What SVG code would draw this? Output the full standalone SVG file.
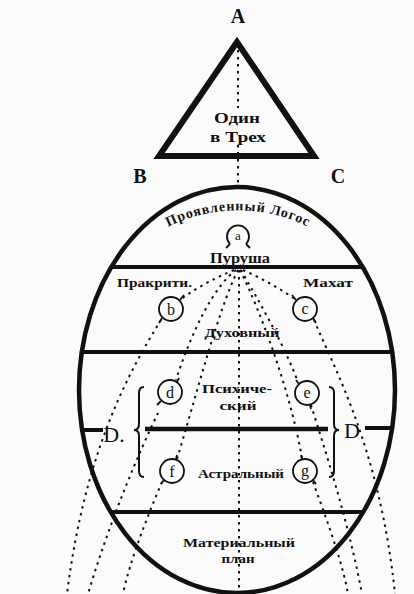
<svg xmlns="http://www.w3.org/2000/svg" width="414" height="594" viewBox="0 0 414 594">
<defs>
<style>
.solid{fill:none;stroke:#111;stroke-linecap:butt}
.dot{fill:none;stroke:#111;stroke-width:2;stroke-dasharray:2.5 4.5}
.lbl{font-family:"Liberation Serif","DejaVu Serif",serif;font-weight:bold;fill:#111}
.big{font-family:"Liberation Serif","DejaVu Serif",serif;fill:#111}
.circ{fill:none;stroke:#111;stroke-width:1.8}
</style>
<path id="arcTop" d="M160,231 A158,158 0 0 1 316,231"/>
</defs>
<rect width="414" height="594" fill="#fbfbfb"/>

<g id="connectors">
<path class="dot" d="M238,50 V108"/>
<path class="dot" d="M238,145 V186"/>
<path class="dot" d="M239,270 V594"/>
<path class="dot" d="M234,270 Q205,282 181,299"/>
<path class="dot" d="M161,320 C130,370 85,450 67,594"/>
<path class="dot" d="M236,270 C215,285 192,330 176,380"/>
<path class="dot" d="M158,413 C140,450 110,520 88,594"/>
<path class="dot" d="M238,270 C218,310 195,400 177,459"/>
<path class="dot" d="M162,482 C148,515 130,560 123,594"/>
<path class="dot" d="M243,270 Q270,282 295,299"/>
<path class="dot" d="M314,320 C335,370 380,450 395,594"/>
<path class="dot" d="M241,270 C258,300 282,340 298,382"/>
<path class="dot" d="M311,405 C325,450 348,520 362,594"/>
<path class="dot" d="M240,270 C260,310 290,390 302,458"/>
<path class="dot" d="M313,482 C325,515 342,560 348,594"/>
</g>

<g id="trinity">
<path class="solid" d="M237,42 L159,156 L314,156 Z" stroke-width="6" stroke-linejoin="miter"/>
<text class="lbl" x="237" y="123" font-size="15" text-anchor="middle" textLength="46" lengthAdjust="spacingAndGlyphs">Один</text>
<text class="lbl" x="238" y="142" font-size="14" text-anchor="middle" textLength="56" lengthAdjust="spacingAndGlyphs">в Трех</text>
</g>
<g id="label-A"><text class="lbl" x="238" y="23" font-size="20" text-anchor="middle">A</text></g>
<g id="label-B"><text class="lbl" x="140" y="183" font-size="20" text-anchor="middle">B</text></g>
<g id="label-C"><text class="lbl" x="338" y="183" font-size="20" text-anchor="middle">C</text></g>

<g id="egg">
<ellipse cx="237" cy="390" rx="158" ry="203" fill="none" stroke="#111" stroke-width="4.5"/>
<line class="solid" x1="111" y1="267" x2="363" y2="267" stroke-width="4"/>
<line class="solid" x1="82" y1="352" x2="392" y2="352" stroke-width="4"/>
<line class="solid" x1="80" y1="430" x2="103" y2="430" stroke-width="4"/>
<line class="solid" x1="145" y1="429" x2="328" y2="429" stroke-width="4.5"/>
<line class="solid" x1="365" y1="428" x2="393" y2="428" stroke-width="4"/>
<line class="solid" x1="111" y1="512" x2="363" y2="512" stroke-width="4"/>
</g>

<g id="plane-logos">
<text class="lbl" font-size="14" letter-spacing="0.9"><textPath href="#arcTop" startOffset="50%" text-anchor="middle">Проявленный Логос</textPath></text>
</g>
<g id="node-a">
<path class="circ" d="M230,244 A11,11 0 1 1 246,244"/>
<path class="circ" d="M230,244 L226,248 M246,244 L250,248"/>
<text class="big" x="238" y="240" font-size="13" text-anchor="middle">a</text>
</g>
<g id="purusha"><text class="lbl" x="240" y="263" font-size="14" text-anchor="middle" textLength="60" lengthAdjust="spacingAndGlyphs">Пуруша</text></g>
<g id="prakriti"><text class="lbl" x="117" y="287" font-size="13" textLength="75" lengthAdjust="spacingAndGlyphs">Пракрити.</text></g>
<g id="mahat"><text class="lbl" x="303" y="287" font-size="13" textLength="50" lengthAdjust="spacingAndGlyphs">Махат</text></g>

<g id="node-b">
<circle class="circ" cx="171" cy="309" r="12"/>
<path class="circ" d="M180,300 L184,295 M162,318 L159,323"/>
<text class="big" x="171" y="315" font-size="16" text-anchor="middle">b</text>
</g>
<g id="node-c">
<circle class="circ" cx="305" cy="309" r="12"/>
<path class="circ" d="M296,300 L292,295 M313,318 L316,323"/>
<text class="big" x="305" y="314" font-size="16" text-anchor="middle">c</text>
</g>
<g id="spiritual"><text class="lbl" x="242" y="337" font-size="13" text-anchor="middle" textLength="75" lengthAdjust="spacingAndGlyphs">Духовный</text></g>

<g id="node-d">
<circle class="circ" cx="170" cy="392" r="12"/>
<path class="circ" d="M177,382 L179,378 M161,401 L157,405"/>
<text class="big" x="170" y="398" font-size="16" text-anchor="middle">d</text>
</g>
<g id="node-e">
<circle class="circ" cx="307" cy="393" r="12"/>
<path class="circ" d="M299,384 L296,380 M310,405 L311,409"/>
<text class="big" x="307" y="398" font-size="16" text-anchor="middle">e</text>
</g>
<g id="psychic">
<text class="lbl" x="237" y="393" font-size="13" text-anchor="middle" textLength="70" lengthAdjust="spacingAndGlyphs">Психиче-</text>
<text class="lbl" x="238" y="410" font-size="13" text-anchor="middle" textLength="37" lengthAdjust="spacingAndGlyphs">ский</text>
</g>

<g id="node-D-left">
<text class="big" x="114" y="442" font-size="22" text-anchor="middle">D.</text>
<path class="solid" stroke-width="2" d="M144,387 Q139,387 139,393 V424 Q139,430 134,430 Q139,430 139,436 V471 Q139,477 144,477"/>
</g>
<g id="node-D-right">
<text class="big" x="352" y="438" font-size="22" text-anchor="middle">D</text>
<path class="solid" stroke-width="2" d="M329,387 Q334,387 334,393 V424 Q334,430 339,430 Q334,430 334,436 V471 Q334,477 329,477"/>
</g>

<g id="node-f">
<circle class="circ" cx="172" cy="471" r="12"/>
<path class="circ" d="M176,459 L177,455 M164,480 L161,484"/>
<text class="big" x="172" y="477" font-size="16" text-anchor="middle">f</text>
</g>
<g id="node-g">
<circle class="circ" cx="305" cy="471" r="12"/>
<path class="circ" d="M302,459 L301,455 M313,480 L316,484"/>
<text class="big" x="305" y="476" font-size="16" text-anchor="middle">g</text>
</g>
<g id="astral"><text class="lbl" x="241" y="478" font-size="12" text-anchor="middle" textLength="86" lengthAdjust="spacingAndGlyphs">Астральный</text></g>
<g id="material">
<text class="lbl" x="239" y="547" font-size="13" text-anchor="middle" textLength="112" lengthAdjust="spacingAndGlyphs">Материальный</text>
<text class="lbl" x="238" y="563" font-size="12" text-anchor="middle" textLength="33" lengthAdjust="spacingAndGlyphs">план</text>
</g>
</svg>
